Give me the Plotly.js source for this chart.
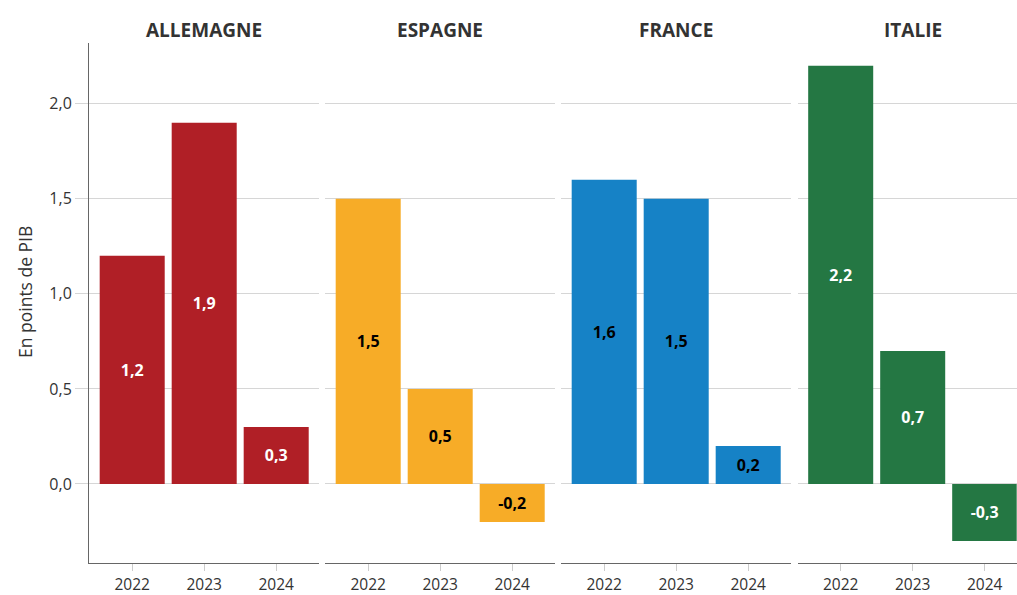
<!DOCTYPE html>
<html>
<head>
<meta charset="utf-8">
<script src="https://cdn.plot.ly/plotly-3.0.1.min.js"></script>
<style>html,body{margin:0;padding:0;background:#fff;}#chart{width:1017px;height:595px;}</style>
</head>
<body>
<div id="chart"></div>
<script>
const years = ['2022', '2023', '2024'];
const countries = ['ALLEMAGNE', 'ESPAGNE', 'FRANCE', 'ITALIE'];
const allemagne = [1.2, 1.9, 0.3];
const espagne = [1.5, 0.5, -0.2];
const france = [1.6, 1.5, 0.2];
const italie = [2.2, 0.7, -0.3];
const seriesValues = [allemagne, espagne, france, italie];
const colors = ['#B01F26', '#F7AC27', '#1682C6', '#247743'];
const labelColors = ['#ffffff', '#000000', '#000000', '#ffffff'];
const yTicks = [0, 0.5, 1, 1.5, 2];

const FONT = 'Open Sans, Noto Sans, sans-serif';
const W = 1017, L = 89;
const plotW = W - L;
const facetStarts = [89, 325, 561, 797.5];
const pxPerCat = 72;
const ranges = [[-0.6, 2.6], [-0.6, 2.6], [-0.6, 2.6], [-0.6, (1017 - 841) / 72]];

const data = [];
const layout = {
  width: 1017, height: 595,
  margin: {l: L, r: 0, t: 43, b: 32},
  paper_bgcolor: '#fff', plot_bgcolor: '#fff',
  separators: ',.',
  showlegend: false,
  bargap: 0.097,
  font: {family: FONT, color: '#333', size: 15},
  annotations: []
};

countries.forEach((c, i) => {
  const n = i === 0 ? '' : String(i + 1);
  const xa = 'x' + n, ya = 'y' + n;
  data.push({
    type: 'bar', x: years, y: seriesValues[i], xaxis: xa, yaxis: ya,
    marker: {color: colors[i]},
    texttemplate: '%{y:.1f}', textposition: 'inside', insidetextanchor: 'middle',
    textangle: 0, constraintext: 'none',
    insidetextfont: {family: FONT, size: 16, color: labelColors[i], weight: 700},
    hoverinfo: 'skip', cliponaxis: false
  });
  const start = facetStarts[i];
  const width = (ranges[i][1] - ranges[i][0]) * pxPerCat;
  const d0 = (start - L) / plotW;
  const d1 = Math.min(1, (start + width - L) / plotW);
  layout['xaxis' + n] = {
    domain: [d0, d1], range: ranges[i], type: 'category', anchor: ya,
    showline: true, linecolor: '#666', linewidth: 1,
    ticks: 'outside', ticklen: 7, tickcolor: '#ccc', tickwidth: 1,
    showgrid: false, zeroline: false, fixedrange: true,
    tickfont: {family: FONT, size: 15.5, color: '#333'}
  };
  layout['yaxis' + n] = {
    range: [-0.416, 2.32], anchor: xa,
    tickvals: yTicks, tickformat: '.1f',
    showgrid: true, gridcolor: '#d6d6d6', gridwidth: 1,
    zeroline: false, fixedrange: true,
    showline: i === 0, linecolor: '#666', linewidth: 1,
    ticks: i === 0 ? 'outside' : '', ticklen: 13, tickcolor: '#d6d6d6',
    showticklabels: i === 0,
    tickfont: {family: FONT, size: 16, color: '#333'}
  };
  if (i > 0) layout['yaxis' + n].matches = 'y';
  layout.annotations.push({
    xref: xa, yref: 'paper', x: 1, y: (563 - 30) / 520, yanchor: 'middle', xanchor: 'center',
    text: '<b>' + c + '</b>', showarrow: false,
    font: {family: FONT, size: 19, color: '#333'}
  });
});

layout.annotations.push({
  xref: 'paper', yref: 'paper', x: (25 - L) / plotW, y: (563 - 292) / 520,
  xanchor: 'center', yanchor: 'middle', textangle: -90,
  text: 'En points de PIB', showarrow: false,
  font: {family: FONT, size: 17.5, color: '#333'}
});

Plotly.newPlot('chart', data, layout, {displayModeBar: false, staticPlot: true});
</script>
</body>
</html>
